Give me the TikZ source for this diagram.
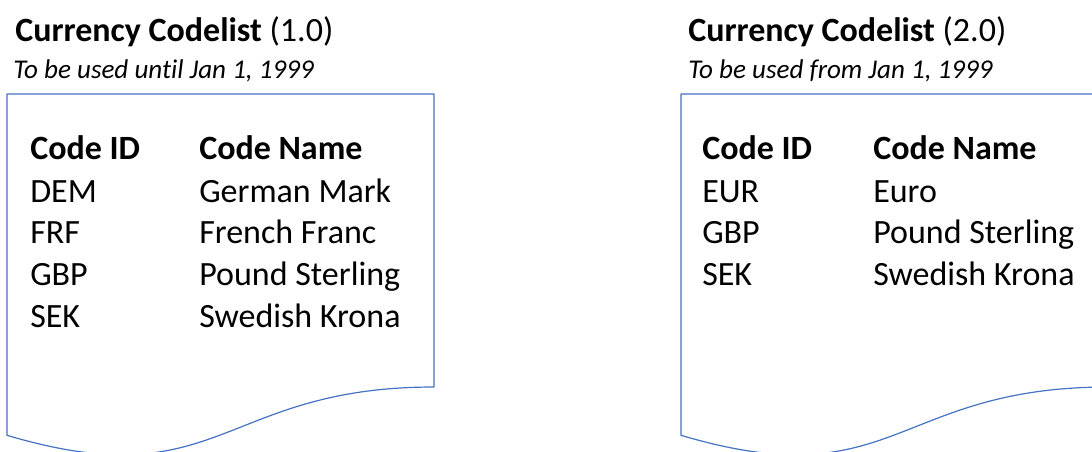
\documentclass[tikz,border=0pt]{standalone}
\usepackage{fontspec}
\setmainfont[Ligatures=NoCommon]{Carlito}
\usepackage{xcolor}
\usepackage{tikz}
\definecolor{docblue}{HTML}{4472C4}

\begin{document}
\begin{tikzpicture}[x=0.75pt,y=-0.75pt,
		doc/.style={draw=docblue,line width=0.9pt,line join=round},
		cell/.style={anchor=base west,inner sep=0pt,font=\fontsize{25.5}{30}\selectfont},
		head/.style={cell,font=\fontsize{25.5}{30}\selectfont\bfseries},
		title/.style={anchor=base west,inner sep=0pt,font=\fontsize{25.5}{30}\selectfont},
		subtitle/.style={anchor=base west,inner sep=0pt,font=\fontsize{20.3}{24}\selectfont\itshape}]
			\useasboundingbox (0,0) rectangle (1092,451);
			\clip (0,0) rectangle (1092,451);
			% old list
			\node[title] (title1) at (15,41) {\textbf{Currency Codelist} (1.0)};
			\node[subtitle] (sub1) at (13,78) {To be used until Jan 1, 1999};
			\draw[doc] (7,94) -- (434,94) -- (434,387) .. controls (220.5,387) and (220.5,498.7) .. (7,435.3) -- cycle;
			\node[head] (id1) at (30,159) {Code ID};
			\node[head] (name1) at (199,159) {Code Name};
			\node[cell] (dem) at (30,202) {DEM};
			\node[cell] (demname) at (199,202) {German Mark};
			\node[cell] (frf) at (30,243) {FRF};
			\node[cell] (frfname) at (199,243) {French Franc};
			\node[cell] (gbp1) at (30,285) {GBP};
			\node[cell] (gbpname1) at (199,285) {Pound Sterling};
			\node[cell] (sek1) at (30,327) {SEK};
			\node[cell] (sekname1) at (199,327) {Swedish Krona};
			% new list
			\node[title] (title2) at (688,41) {\textbf{Currency Codelist} (2.0)};
			\node[subtitle] (sub2) at (688,78) {To be used from Jan 1, 1999};
			\draw[doc] (681,94) -- (1108,94) -- (1108,387) .. controls (894.5,387) and (894.5,498.7) .. (681,435.3) -- cycle;
			\node[head] (id2) at (702,159) {Code ID};
			\node[head] (name2) at (873,159) {Code Name};
			\node[cell] (eur) at (702,202) {EUR};
			\node[cell] (eurname) at (873,202) {Euro};
			\node[cell] (gbp2) at (702,243) {GBP};
			\node[cell] (gbpname2) at (873,243) {Pound Sterling};
			\node[cell] (sek2) at (702,285) {SEK};
			\node[cell] (sekname2) at (873,285) {Swedish Krona};
		\end{tikzpicture}
\end{document}
